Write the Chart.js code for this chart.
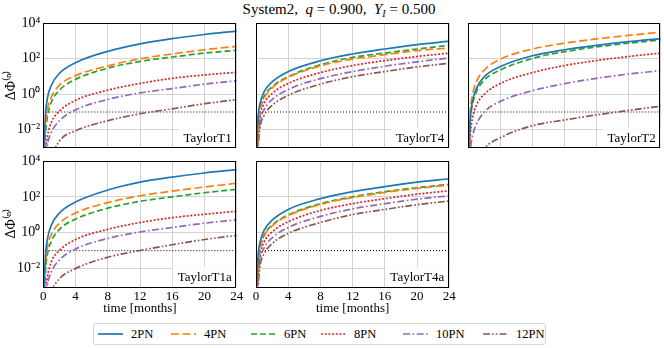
<!DOCTYPE html>
<html>
<head>
<meta charset="utf-8">
<script src="https://cdn.jsdelivr.net/npm/chart.js@4.4.1/dist/chart.umd.min.js"></script>
<style>
  body { margin: 0; width: 664px; height: 348px; background: #fff; position: relative; overflow: hidden;
         font-family: 'Liberation Serif', 'DejaVu Serif', serif; color: #000; }
  canvas { position: absolute; left: 0; top: 0; }
  #title { position: absolute; left: 17px; width: 644px; top: 0; text-align: center; font-size: 15px; line-height: 19px; }
  #title sub { font-size: 10px; vertical-align: -3px; line-height: 0; }
  #legend { position: absolute; left: 93px; top: 323px; width: 453px; height: 22px; border: 1px solid #d4d4d4;
            border-radius: 3px; box-sizing: border-box; font-size: 12.5px; }
  .item { position: absolute; top: 0; height: 20px; display: flex; align-items: center; white-space: nowrap; }
  .item svg { margin-right: 8px; }
</style>
</head>
<body>
<div id="title">System2, &nbsp;<i>q</i> = 0.900, &nbsp;<i>Y<sub>I</sub></i> = 0.500</div>
<div id="legend"></div>
<script>
const MONTHS = [0.1, 0.25, 0.5, 1, 2, 4, 8, 12, 16, 20, 24];
const SERIES = ['2PN', '4PN', '6PN', '8PN', '10PN', '12PN'];
const PANELS = ['TaylorT1', 'TaylorT4', 'TaylorT2', 'TaylorT1a', 'TaylorT4a'];
const X_TICKS = [0, 4, 8, 12, 16, 20, 24];
const Y_TICKS = [1e-2, 1, 1e2, 1e4];
const Y_TICK_LABELS = ['10⁻²', '10⁰', '10²', '10⁴'];
const THRESHOLD = 0.1;

// log10(ΔΦ), one row per PN order (2PN ... 12PN)
const T1 = [
  [-3.2, -1.3, -0.25, 0.51, 1.18, 1.78, 2.42, 2.84, 3.14, 3.37, 3.56],
  [-3.5, -2.0, -0.9, -0.15, 0.51, 1.05, 1.6, 2.0, 2.27, 2.51, 2.70],
  [-3.6, -2.3, -1.3, -0.44, 0.23, 0.84, 1.47, 1.85, 2.1, 2.32, 2.48],
  [-4.5, -3.4, -2.4, -1.58, -0.95, -0.34, 0.23, 0.61, 0.9, 1.09, 1.24],
  [-5, -4, -2.9, -2.15, -1.49, -0.88, -0.29, 0.08, 0.32, 0.57, 0.76],
  [-6, -5.5, -4.5, -3.6, -2.63, -2.06, -1.49, -1.1, -0.82, -0.53, -0.3]
];
const T4 = [
  [-2.8, -1.3, -0.53, 0.13, 0.7, 1.28, 1.89, 2.27, 2.55, 2.8, 2.99],
  [-3.4, -2.1, -0.99, -0.24, 0.36, 0.95, 1.6, 1.98, 2.23, 2.46, 2.61],
  [-3.3, -2.0, -0.91, -0.15, 0.42, 0.99, 1.66, 2.08, 2.32, 2.55, 2.76],
  [-3.8, -2.5, -1.3, -0.53, 0.04, 0.61, 1.22, 1.62, 1.9, 2.13, 2.32],
  [-4.2, -2.8, -1.58, -0.88, -0.3, 0.27, 0.88, 1.28, 1.58, 1.83, 2.04],
  [-4.5, -3.1, -1.87, -1.2, -0.63, -0.06, 0.57, 0.99, 1.28, 1.54, 1.75]
];
const T2 = [
  [-2.8, -1.3, -0.44, 0.32, 0.99, 1.56, 2.17, 2.51, 2.76, 2.97, 3.14],
  [-2.5, -0.9, -0.06, 0.7, 1.37, 1.98, 2.55, 2.88, 3.12, 3.32, 3.5],
  [-3.0, -1.5, -0.63, 0.13, 0.8, 1.37, 2.02, 2.4, 2.67, 2.88, 3.06],
  [-3.6, -2.3, -1.39, -0.63, 0, 0.61, 1.22, 1.62, 1.9, 2.13, 2.32],
  [-4.5, -3.2, -2.4, -1.7, -1.0, -0.4, 0.2, 0.6, 0.9, 1.14, 1.33],
  [-6, -5, -4.2, -3.8, -3.05, -2.45, -1.77, -1.45, -1.16, -0.91, -0.67]
];
const T1A = [
  [-3.2, -1.4, -0.38, 0.42, 1.1, 1.71, 2.38, 2.82, 3.1, 3.33, 3.52],
  [-3.6, -2.0, -0.86, -0.1, 0.53, 1.1, 1.68, 2.06, 2.32, 2.55, 2.76],
  [-3.8, -2.3, -1.24, -0.48, 0.19, 0.76, 1.37, 1.75, 2.0, 2.23, 2.42],
  [-4.5, -3.4, -2.48, -1.62, -0.99, -0.38, 0.19, 0.57, 0.84, 1.03, 1.2],
  [-5, -4, -2.95, -2.19, -1.52, -0.91, -0.32, 0.04, 0.29, 0.53, 0.72],
  [-6, -5, -4.2, -3.3, -2.57, -2.0, -1.37, -0.99, -0.67, -0.38, -0.15]
];
const T4A = [
  [-2.8, -1.3, -0.53, 0.13, 0.7, 1.3, 1.9, 2.29, 2.57, 2.82, 3.01],
  [-3.4, -2.1, -0.97, -0.2, 0.38, 0.95, 1.58, 1.96, 2.25, 2.47, 2.66],
  [-3.3, -2.0, -0.91, -0.15, 0.42, 0.99, 1.62, 2.0, 2.29, 2.51, 2.7],
  [-3.8, -2.5, -1.3, -0.53, 0.04, 0.61, 1.24, 1.62, 1.9, 2.15, 2.34],
  [-4.2, -2.8, -1.56, -0.86, -0.29, 0.29, 0.91, 1.33, 1.62, 1.87, 2.06],
  [-4.5, -3.1, -1.87, -1.18, -0.61, -0.04, 0.57, 1.01, 1.3, 1.56, 1.77]
];
const PANEL_DATA = [T1, T4, T2, T1A, T4A];

const COLORS = ['#1f77b4', '#ff7f0e', '#2ca02c', '#d62728', '#9467bd', '#8c564b'];
const DASHES = [[], [8, 3.5], [6, 3], [2, 1.7], [7, 2.5, 1.7, 2.5], [7, 2, 1.7, 2, 1.7, 2]];

// plot boxes [left, top, right, bottom] in page pixels
const BOXES = [
  [43.3, 23.3, 236.7, 147.5], [256, 23.3, 449.3, 147.5], [468.3, 23.3, 660.7, 147.5],
  [43.3, 161, 236.7, 286.5], [256, 161, 449.3, 286.5]
];
const YAXIS_W = 43;
// left offsets of the legend entries inside the legend box
const LEGEND_POS = [4, 77, 157, 227, 309, 389];
const font = { family: "'Liberation Serif', serif", size: 13 };

const framePlugin = {
  id: 'frame',
  afterDatasetsDraw(chart, args, opts) {
    const { ctx, chartArea: a } = chart;
    ctx.save();
    ctx.font = "13px 'Liberation Serif', serif";
    const w = ctx.measureText(opts.label).width;
    const x = a.right - 5 - w, y = a.bottom - 6;
    ctx.fillStyle = 'rgba(255,255,255,0.85)';
    ctx.fillRect(x - 5, y - 14, a.right - x + 5, a.bottom - y + 14);
    ctx.fillStyle = '#000';
    ctx.fillText(opts.label, x, y);
    ctx.restore();
  },
  afterDraw(chart) {
    const { ctx, chartArea: a } = chart;
    ctx.save();
    ctx.strokeStyle = '#000';
    ctx.lineWidth = 1;
    ctx.strokeRect(Math.round(a.left) + 0.5, Math.round(a.top) + 0.5,
                   Math.round(a.right - a.left) - 1, Math.round(a.bottom - a.top));
    ctx.restore();
  }
};

PANELS.forEach((name, idx) => {
  const canvas = document.createElement('canvas');
  canvas.width = 664; canvas.height = 348;
  document.body.appendChild(canvas);
  const [l, t, r, b] = BOXES[idx];
  const bottomRow = idx >= 3;
  const firstCol = idx === 0 || idx === 3;
  const xh = bottomRow ? 30 : 0;

  const datasets = PANEL_DATA[idx].map((row, s) => ({
    label: SERIES[s],
    data: MONTHS.map((m, i) => ({ x: m, y: Math.pow(10, row[i]) })),
    borderColor: COLORS[s],
    borderWidth: 1.7,
    borderDash: DASHES[s],
    pointRadius: 0,
    cubicInterpolationMode: 'monotone'
  }));
  datasets.push({
    label: 'threshold',
    data: [{ x: 0, y: THRESHOLD }, { x: 24, y: THRESHOLD }],
    borderColor: '#000', borderWidth: 1, borderDash: [1, 2], pointRadius: 0
  });

  new Chart(canvas.getContext('2d'), {
    type: 'line',
    data: { datasets },
    options: {
      responsive: false,
      animation: false,
      devicePixelRatio: 1,
      layout: { padding: { left: l - YAXIS_W, top: t, right: 664 - r, bottom: 348 - b - xh } },
      plugins: {
        legend: { display: false },
        tooltip: { enabled: false },
        frame: { label: name }
      },
      scales: {
        x: {
          type: 'linear', min: 0, max: 24,
          afterFit(s) { s.height = xh; },
          afterBuildTicks(s) { s.ticks = X_TICKS.map(v => ({ value: v })); },
          ticks: { display: bottomRow, font, color: '#000', padding: 2, maxRotation: 0 },
          grid: { color: '#d3d3d3', lineWidth: 1, drawTicks: false },
          border: { display: false },
          title: { display: bottomRow, text: 'time [months]', font, color: '#000', padding: 0 }
        },
        y: {
          type: 'logarithmic', min: 1e-3, max: 1e4,
          afterFit(s) { s.width = YAXIS_W; },
          afterBuildTicks(s) { s.ticks = Y_TICKS.map(v => ({ value: v })); },
          ticks: {
            display: firstCol, font: { family: font.family, size: 14 }, color: '#000', padding: 3,
            callback: (v, i) => Y_TICK_LABELS[i]
          },
          grid: { color: '#d3d3d3', lineWidth: 1, drawTicks: false },
          border: { display: false },
          title: { display: firstCol, text: 'ΔΦ⁽ⁿ⁾', font: { family: font.family, size: 14 }, color: '#000', padding: { top: 3, bottom: 0 } }
        }
      }
    },
    plugins: [framePlugin]
  });
});

// legend row
const legend = document.getElementById('legend');
SERIES.forEach((name, s) => {
  const item = document.createElement('div');
  item.className = 'item';
  item.style.left = LEGEND_POS[s] + 'px';
  item.innerHTML = '<svg width="25" height="10"><line x1="0" y1="5" x2="25" y2="5" stroke="' + COLORS[s] +
    '" stroke-width="1.7" stroke-dasharray="' + (DASHES[s].join(' ') || 'none') + '"/></svg><span>' + name + '</span>';
  legend.appendChild(item);
});
</script>
</body>
</html>
